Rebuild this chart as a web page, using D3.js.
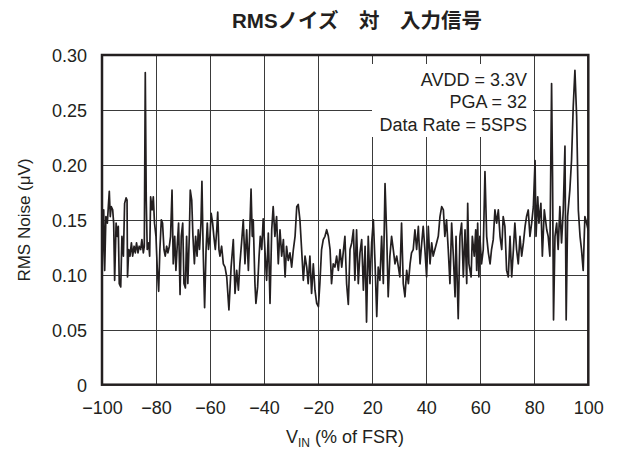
<!DOCTYPE html>
<html>
<head>
<meta charset="utf-8">
<script src="https://cdn.jsdelivr.net/npm/d3@7"></script>
<style>
  body { margin: 0; background: #fff; }
  text { font-family: "Liberation Sans", Arial, sans-serif; fill: #231f20; }
</style>
</head>
<body>
<svg id="chart" width="622" height="450"></svg>
<script>
// Axis tick labels (the horizontal axis has ten evenly spaced labels)
const xTickLabels = ["\u2212100", "\u221280", "\u221260", "\u221240", "\u221220", "20", "40", "60", "80", "100"];
const yTicks = [0, 0.05, 0.10, 0.15, 0.20, 0.25, 0.30];

// Input level, % of FSR (linear from -100 to +100 across the plot)
const vinPct = [
  -100, -99.3, -98.9, -98.4, -97.8, -97.4, -97.0, -96.6, -96.2, -95.6,
  -95.2, -94.8, -94.2, -93.7, -93.3, -92.9, -92.3, -91.8, -91.2, -90.7,
  -90.1, -89.7, -89.5, -89.0, -88.5, -87.9, -87.4, -86.8, -86.3, -85.8,
  -85.2, -84.7, -84.1, -83.6, -83.0, -82.6, -82.2, -81.8, -81.4, -80.8,
  -80.4, -80.0, -79.4, -78.9, -78.4, -77.8, -77.3, -76.7, -76.2, -75.6,
  -75.1, -74.5, -74.0, -73.4, -72.9, -72.3, -71.8, -71.2, -70.7, -70.1,
  -69.6, -69.0, -68.5, -67.9, -67.4, -66.8, -66.3, -65.7, -65.2, -64.7,
  -64.1, -63.7, -63.1, -62.6, -62.0, -61.5, -60.9, -60.4, -59.9, -59.3,
  -58.9, -58.4, -57.8, -57.2, -56.7, -56.2, -55.6, -55.1, -54.5, -54.0,
  -53.4, -52.8, -52.4, -51.9, -51.5, -50.8, -50.1, -49.4, -48.7, -47.8,
  -46.9, -46.0, -45.3, -44.6, -43.9, -43.3, -42.6, -41.9, -41.2, -40.5,
  -39.8, -39.3, -38.7, -38.2, -37.8, -37.1, -36.7, -36.0, -35.4, -34.9,
  -34.3, -33.7, -33.0, -32.3, -31.6, -30.9, -30.2, -29.6, -28.9, -28.2,
  -27.5, -26.8, -26.1, -25.4, -24.7, -24.1, -23.4, -22.7, -22.0, -21.3,
  -20.6, -19.9, -19.3, -18.6, -17.9, -17.2, -16.5, -15.8, -15.2, -14.5,
  -13.8, -13.1, -12.4, -11.7, -11.0, -10.4, -9.7, -9.0, -8.3, -7.6,
  -6.9, -6.2, -5.6, -4.9, -4.2, -3.5, -2.8, -2.1, -1.4, -0.8,
  -0.1, 0.6, 1.3, 2.0, 2.7, 3.4, 4.0, 4.7, 5.4, 6.1,
  6.8, 7.5, 8.2, 8.8, 9.5, 10.2, 10.9, 11.6, 12.3, 13.0,
  13.6, 14.3, 15.0, 15.7, 16.4, 17.1, 17.7, 18.4, 19.1, 19.8,
  20.5, 21.2, 21.9, 22.5, 23.2, 23.9, 24.6, 25.3, 26.0, 26.7,
  27.3, 28.0, 28.7, 29.4, 30.1, 30.8, 31.5, 32.1, 32.8, 33.5,
  34.2, 34.9, 35.6, 36.2, 36.9, 37.6, 38.3, 39.0, 39.7, 40.4,
  41.0, 41.7, 42.4, 43.1, 43.8, 44.5, 45.2, 45.6, 46.5, 47.2,
  47.9, 48.6, 49.3, 50.0, 50.4, 50.9, 51.8, 52.3, 53.1, 53.7,
  54.1, 54.5, 55.0, 55.4, 56.1, 56.8, 57.5, 58.2, 58.9, 59.6,
  60.2, 60.9, 61.6, 62.3, 63.0, 63.7, 64.4, 65.0, 65.7, 66.4,
  67.1, 67.8, 68.5, 69.2, 69.8, 70.5, 71.2, 71.9, 72.6, 73.3,
  74.0, 74.6, 75.3, 76.0, 76.7, 77.4, 78.1, 78.5, 79.2, 79.7,
  80.5, 81.1, 81.9, 82.9, 83.5, 84.2, 84.9, 85.3, 85.7, 86.3,
  87.0, 87.6, 88.3, 89.0, 89.7, 90.4, 90.9, 91.5, 92.4, 93.1,
  93.8, 94.5, 95.2, 95.9, 96.6, 97.2, 97.9, 98.6, 99.3, 100
];

// RMS noise, µV
const rmsNoise = [
  0.101, 0.159, 0.104, 0.153, 0.147, 0.162, 0.176, 0.153, 0.162, 0.159,
  0.147, 0.095, 0.147, 0.135, 0.144, 0.092, 0.089, 0.135, 0.117, 0.165,
  0.170, 0.168, 0.098, 0.123, 0.117, 0.129, 0.117, 0.126, 0.120, 0.129,
  0.120, 0.126, 0.123, 0.132, 0.120, 0.126, 0.284, 0.168, 0.123, 0.129,
  0.117, 0.171, 0.159, 0.171, 0.147, 0.135, 0.107, 0.085, 0.123, 0.150,
  0.147, 0.123, 0.117, 0.126, 0.120, 0.126, 0.135, 0.177, 0.110, 0.135,
  0.104, 0.129, 0.147, 0.082, 0.135, 0.147, 0.092, 0.088, 0.135, 0.092,
  0.135, 0.177, 0.168, 0.135, 0.110, 0.135, 0.117, 0.141, 0.123, 0.147,
  0.185, 0.123, 0.070, 0.123, 0.147, 0.123, 0.135, 0.156, 0.147, 0.135,
  0.123, 0.141, 0.157, 0.123, 0.117, 0.126, 0.110, 0.107, 0.098, 0.068,
  0.107, 0.132, 0.083, 0.104, 0.086, 0.110, 0.129, 0.150, 0.110, 0.141,
  0.104, 0.135, 0.178, 0.135, 0.150, 0.092, 0.074, 0.089, 0.117, 0.135,
  0.123, 0.151, 0.123, 0.095, 0.138, 0.074, 0.141, 0.162, 0.135, 0.153,
  0.110, 0.141, 0.117, 0.132, 0.098, 0.126, 0.113, 0.120, 0.107, 0.123,
  0.135, 0.162, 0.164, 0.150, 0.123, 0.095, 0.117, 0.107, 0.092, 0.117,
  0.083, 0.110, 0.086, 0.074, 0.071, 0.092, 0.123, 0.132, 0.135, 0.141,
  0.135, 0.123, 0.092, 0.110, 0.107, 0.117, 0.104, 0.123, 0.107, 0.120,
  0.135, 0.092, 0.073, 0.123, 0.129, 0.141, 0.095, 0.141, 0.092, 0.120,
  0.132, 0.086, 0.126, 0.057, 0.135, 0.092, 0.129, 0.150, 0.110, 0.062,
  0.107, 0.095, 0.135, 0.092, 0.183, 0.135, 0.080, 0.117, 0.135, 0.123,
  0.110, 0.117, 0.107, 0.098, 0.147, 0.092, 0.080, 0.104, 0.092, 0.110,
  0.120, 0.123, 0.141, 0.123, 0.144, 0.110, 0.129, 0.144, 0.123, 0.098,
  0.144, 0.110, 0.129, 0.117, 0.123, 0.129, 0.135, 0.153, 0.162, 0.159,
  0.135, 0.150, 0.123, 0.092, 0.147, 0.117, 0.080, 0.135, 0.060, 0.135,
  0.147, 0.098, 0.141, 0.092, 0.165, 0.110, 0.098, 0.135, 0.117, 0.141,
  0.104, 0.147, 0.098, 0.135, 0.110, 0.123, 0.194, 0.135, 0.120, 0.110,
  0.123, 0.132, 0.159, 0.147, 0.159, 0.135, 0.123, 0.153, 0.144, 0.104,
  0.098, 0.135, 0.098, 0.123, 0.147, 0.123, 0.110, 0.135, 0.117, 0.129,
  0.144, 0.153, 0.159, 0.135, 0.147, 0.162, 0.204, 0.135, 0.171, 0.147,
  0.165, 0.117, 0.159, 0.141, 0.135, 0.117, 0.274, 0.189, 0.059, 0.135,
  0.147, 0.123, 0.162, 0.129, 0.159, 0.217, 0.059, 0.153, 0.177, 0.204,
  0.253, 0.286, 0.244, 0.159, 0.135, 0.123, 0.104, 0.153, 0.147, 0.140
];

const conditions = ["AVDD = 3.3V", "PGA = 32", "Data Rate = 5SPS"];
const title = "RMSノイズ　対　入力信号";
const xTitle = { main: "V", sub: "IN", rest: " (% of FSR)" };
const yTitle = "RMS Noise (\u03bcV)";

const svg = d3.select("#chart");
const plot = { left: 102, right: 588.3, top: 55, bottom: 384.7 };

const x = d3.scaleLinear().domain([-100, 100]).range([plot.left, plot.right]);
const xTick = d3.scalePoint().domain(xTickLabels).range([plot.left, plot.right]);
const y = d3.scaleLinear().domain([0, 0.30]).range([plot.bottom, plot.top]);

const ink = "#231f20";

// Grid
const grid = svg.append("g").attr("stroke", "#3a3a3a").attr("stroke-width", 1);
grid.selectAll("line.v").data(xTickLabels.slice(1, -1)).join("line")
  .attr("class", "v")
  .attr("x1", d => Math.round(xTick(d)) + 0.5).attr("x2", d => Math.round(xTick(d)) + 0.5)
  .attr("y1", plot.top).attr("y2", plot.bottom);
grid.selectAll("line.h").data(yTicks.slice(1, -1)).join("line")
  .attr("class", "h")
  .attr("y1", d => Math.round(y(d)) + 0.5).attr("y2", d => Math.round(y(d)) + 0.5)
  .attr("x1", plot.left).attr("x2", plot.right);

// Conditions box (white backing over the grid)
const boxRight = 527;
svg.append("rect")
  .attr("x", 372).attr("y", 64).attr("width", 161).attr("height", 73)
  .attr("fill", "#fff");
svg.append("g").selectAll("text").data(conditions).join("text")
  .attr("x", boxRight)
  .attr("y", (d, i) => 85.5 + i * 22.5)
  .attr("text-anchor", "end")
  .attr("font-size", 18)
  .text(d => d);

// Noise trace
const points = vinPct.map((v, i) => [v, rmsNoise[i]]);
const line = d3.line()
  .x(d => x(d[0]))
  .y(d => y(d[1]));
svg.append("path")
  .datum(points)
  .attr("d", line)
  .attr("fill", "none")
  .attr("stroke", ink)
  .attr("stroke-width", 1.7)
  .attr("stroke-linejoin", "round");

// Frame
svg.append("rect")
  .attr("x", plot.left).attr("y", plot.top)
  .attr("width", plot.right - plot.left).attr("height", plot.bottom - plot.top)
  .attr("fill", "none").attr("stroke", ink).attr("stroke-width", 2.5);

// Axis labels
const xAxis = d3.axisBottom(xTick).tickSize(0).tickPadding(0);
svg.append("g")
  .attr("transform", `translate(0,${plot.bottom + 29})`)
  .call(xAxis)
  .call(g => g.select(".domain").remove())
  .call(g => g.selectAll("text").attr("font-size", 18).attr("dy", null)
    .attr("font-family", "Liberation Sans, Arial, sans-serif").attr("fill", ink));

const yAxis = d3.axisLeft(y).tickValues(yTicks).tickSize(0).tickPadding(0)
  .tickFormat(d => d === 0 ? "0" : d3.format(".2f")(d));
svg.append("g")
  .attr("transform", `translate(${plot.left - 15},0)`)
  .call(yAxis)
  .call(g => g.select(".domain").remove())
  .call(g => g.selectAll("text").attr("font-size", 18).attr("dy", "0.36em")
    .attr("font-family", "Liberation Sans, Arial, sans-serif").attr("fill", ink));

// Titles
svg.append("text")
  .attr("x", 357).attr("y", 28)
  .attr("text-anchor", "middle")
  .attr("font-size", 20.5)
  .attr("font-weight", "bold")
  .style("font-family", "'Liberation Sans', 'Noto Sans CJK JP', sans-serif")
  .text(title);

const xt = svg.append("text")
  .attr("x", 345).attr("y", 443)
  .attr("text-anchor", "middle")
  .attr("font-size", 18);
xt.append("tspan").text(xTitle.main);
xt.append("tspan").attr("font-size", 12).attr("dy", 4).text(xTitle.sub);
xt.append("tspan").attr("dy", -4).text(xTitle.rest);

svg.append("text")
  .attr("transform", "translate(30,220) rotate(-90)")
  .attr("text-anchor", "middle")
  .attr("font-size", 17)
  .text(yTitle);
</script>
</body>
</html>
